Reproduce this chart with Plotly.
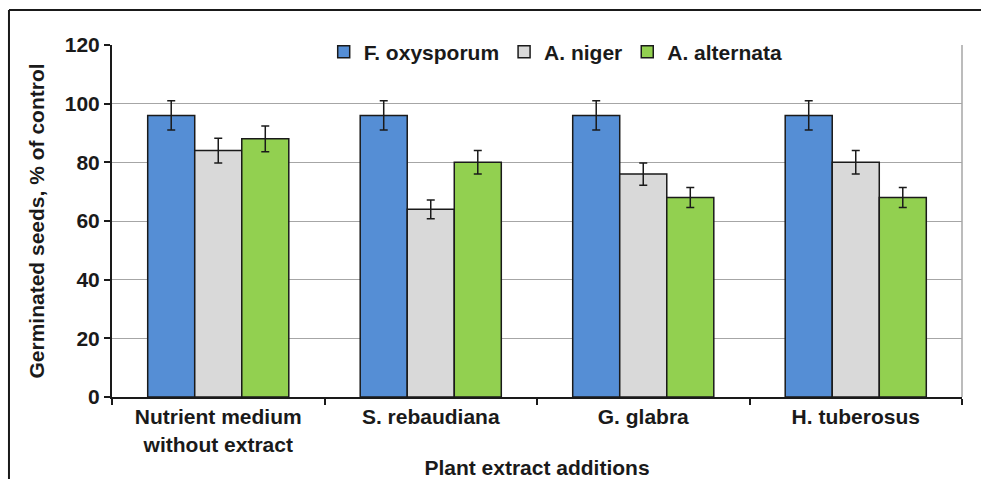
import plotly.graph_objects as go

categories = ["Nutrient medium<br>without extract", "S. rebaudiana", "G. glabra", "H. tuberosus"]
series_names = ["F. oxysporum", "A. niger", "A. alternata"]
f_oxysporum = [96, 96, 96, 96]
f_oxysporum_err = [5, 5, 5, 5]
a_niger = [84, 64, 76, 80]
a_niger_err = [4.2, 3.2, 3.8, 4]
a_alternata = [88, 80, 68, 68]
a_alternata_err = [4.4, 4, 3.4, 3.4]
colors = ["#558ED5", "#D9D9D9", "#92D050"]
y_ticks = [0, 20, 40, 60, 80, 100, 120]

FONT = "Liberation Sans, Arial, sans-serif"
FS = 21

fig = go.Figure()
for name, vals, errs, col in zip(series_names,
                                 [f_oxysporum, a_niger, a_alternata],
                                 [f_oxysporum_err, a_niger_err, a_alternata_err],
                                 colors):
    fig.add_trace(go.Bar(
        name=name, x=categories, y=vals,
        marker=dict(color=col, line=dict(color="#1a1a1a", width=1.5)),
        error_y=dict(type="data", array=errs, visible=True,
                     color="#1a1a1a", thickness=1.5, width=4),
    ))

fig.update_layout(
    width=981, height=479,
    margin=dict(l=112, r=19, t=45, b=82),
    paper_bgcolor="white", plot_bgcolor="white",
    barmode="group", bargap=0.336, bargroupgap=0,
    font=dict(family=FONT, size=FS, color="#1a1a1a", weight="bold"),
    legend=dict(orientation="h", x=0.522, xanchor="center", y=0.98, yanchor="middle",
                bgcolor="white", font=dict(family=FONT, size=FS, weight="bold"),
                itemwidth=30, tracegroupgap=0),
    xaxis=dict(showline=True, linecolor="#1a1a1a", linewidth=2, automargin=False,
               ticks="outside", tickson="boundaries", ticklen=6, tickwidth=2,
               tickcolor="#1a1a1a", showgrid=False,
               title=dict(text="Plant extract additions", standoff=6,
                          font=dict(family=FONT, size=FS, weight="bold")),
               tickfont=dict(family=FONT, size=FS, weight="bold")),
    yaxis=dict(range=[0, 120], tickvals=y_ticks, showline=True, linecolor="#1a1a1a",
               linewidth=2, ticks="outside", ticklen=6, tickwidth=2, tickcolor="#1a1a1a",
               automargin=False,
               showgrid=True, gridcolor="#A6A6A6", gridwidth=1, zeroline=False,
               title=dict(text="Germinated seeds, % of control", standoff=14,
                          font=dict(family=FONT, size=FS, weight="bold")),
               tickfont=dict(family=FONT, size=FS, weight="bold")),
    showlegend=True,
)

# plot-area right border (gray) and outer frame (black)
fig.add_shape(type="line", xref="paper", yref="paper", x0=1, x1=1, y0=0, y1=1,
              line=dict(color="#A6A6A6", width=1.5), layer="below")
fig.add_shape(type="line", xref="paper", yref="paper", x0=-0.1212, x1=1.1, y0=1.0994, y1=1.0994,
              line=dict(color="#1a1a1a", width=2))
fig.add_shape(type="line", xref="paper", yref="paper", x0=-0.1212, x1=-0.1212, y0=1.0994, y1=-0.4,
              line=dict(color="#1a1a1a", width=2))

fig.write_html("out.html")
